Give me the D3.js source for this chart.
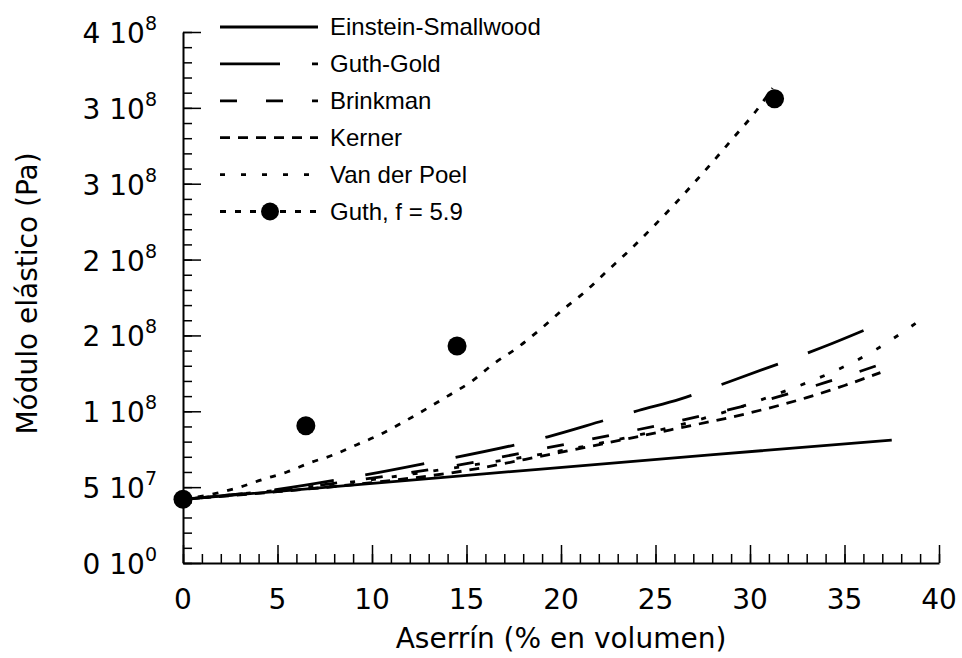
<!DOCTYPE html>
<html>
<head>
<meta charset="utf-8">
<script src="https://cdn.jsdelivr.net/npm/d3@7"></script>
<style>
  html, body { margin: 0; padding: 0; background: #fff; }
  svg { display: block; }
  .ax text { font-family: "DejaVu Sans", sans-serif; }
</style>
</head>
<body>
<svg id="chart" width="962" height="658"></svg>
<script>
// Filler volume fraction (%) and elastic modulus (Pa) for each model
const einsteinX = [0, 14.1, 27.9, 37.5];
const einsteinY = [0.42e8, 0.568e8, 0.713e8, 0.81e8];

const guthGoldX = [0, 5, 9.6, 12.7, 19.3, 22.4, 24.1, 26.3, 28.9, 32.1, 33.8, 37.0];
const guthGoldY = [0.42e8, 0.485e8, 0.58e8, 0.654e8, 0.832e8, 0.944e8, 1.005e8, 1.08e8, 1.195e8, 1.34e8, 1.42e8, 1.585e8];

const brinkmanX = [0, 5, 10, 15, 19.3, 25.8, 30, 34, 37.5];
const brinkmanY = [0.42e8, 0.48e8, 0.56e8, 0.655e8, 0.76e8, 0.925e8, 1.045e8, 1.19e8, 1.334e8];

const kernerX = [0, 5, 10, 15, 19.3, 25.8, 30, 33, 35, 36.9];
const kernerY = [0.42e8, 0.47e8, 0.53e8, 0.61e8, 0.713e8, 0.878e8, 0.99e8, 1.09e8, 1.17e8, 1.255e8];

const vanDerPoelX = [0, 5, 10, 15, 20, 25, 28, 30, 32, 34.2, 35.4, 36.7, 37.9, 39.0];
const vanDerPoelY = [0.42e8, 0.48e8, 0.55e8, 0.64e8, 0.74e8, 0.87e8, 0.97e8, 1.05e8, 1.14e8, 1.25e8, 1.32e8, 1.41e8, 1.506e8, 1.60e8];

const guthCurveX = [0, 1.8, 3.0, 4.2, 5.5, 6.7, 7.9, 9.2, 10.4, 11.6, 14.0, 15.3, 16.4, 17.7, 18.9, 20.1, 21.2, 22.4, 23.7, 24.9, 25.9, 27.0, 28.0, 29.1, 30.2, 31.2];
const guthCurveY = [0.42e8, 0.46e8, 0.50e8, 0.55e8, 0.60e8, 0.66e8, 0.71e8, 0.78e8, 0.845e8, 0.925e8, 1.10e8, 1.20e8, 1.31e8, 1.42e8, 1.54e8, 1.67e8, 1.78e8, 1.92e8, 2.07e8, 2.22e8, 2.35e8, 2.50e8, 2.64e8, 2.80e8, 2.96e8, 3.13e8];

// Measured samples
const expX = [0, 6.5, 14.5, 31.3];
const expY = [0.42e8, 0.905e8, 1.43e8, 3.06e8];

// Axis ticks and labels
const xTicks = [0, 5, 10, 15, 20, 25, 30, 35, 40];
const yTicks = [0, 0.5e8, 1.0e8, 1.5e8, 2.0e8, 2.5e8, 3.0e8, 3.5e8];
const yMantissa = ["0", "5", "1", "2", "2", "3", "3", "4"];
const yExponent = ["0", "7", "8", "8", "8", "8", "8", "8"];

const legendNames = ["Einstein-Smallwood", "Guth-Gold", "Brinkman", "Kerner", "Van der Poel", "Guth, f = 5.9"];
const xTitle = "Aserrín (% en volumen)";
const yTitle = "Módulo elástico (Pa)";

const svg = d3.select("#chart");
const x = d3.scaleLinear().domain([0, 40]).range([183, 939]);
const y = d3.scaleLinear().domain([0, 3.5e8]).range([563, 32]);

// Axes with inward ticks (major + minor)
const axG = svg.append("g").attr("class", "ax");

const gxMinor = axG.append("g").attr("transform", `translate(0,${y(0)})`)
  .call(d3.axisBottom(x).tickValues(d3.range(0, 41, 1)).tickSize(-9).tickFormat(""));
const gxMajor = axG.append("g").attr("transform", `translate(0,${y(0)})`)
  .call(d3.axisBottom(x).tickValues(xTicks).tickSize(-18).tickSizeOuter(0).tickFormat(""));
const gyMinor = axG.append("g").attr("transform", `translate(${x(0)},0)`)
  .call(d3.axisLeft(y).tickValues(d3.range(0, 35.5, 1).map(v => v * 1e7)).tickSize(-9).tickFormat(""));
const gyMajor = axG.append("g").attr("transform", `translate(${x(0)},0)`)
  .call(d3.axisLeft(y).tickValues(yTicks).tickSize(-18).tickSizeOuter(0).tickFormat(""));

[gxMinor, gyMinor].forEach(g => g.select(".domain").remove());
axG.selectAll("line").attr("stroke", "#000").attr("stroke-width", 1.5);
axG.selectAll(".domain").attr("stroke", "#000").attr("stroke-width", 2);

// X tick labels
axG.append("g").selectAll("text").data(xTicks).join("text")
  .attr("x", d => x(d)).attr("y", 609)
  .attr("text-anchor", "middle")
  .attr("font-size", 28)
  .text(d => d);

// Y tick labels: mantissa, "10" and superscript exponent
const yl = axG.append("g").selectAll("text").data(yTicks).join("text")
  .attr("x", 157).attr("y", d => y(d) + 11)
  .attr("text-anchor", "end")
  .attr("font-size", 28);
yl.append("tspan").text((d, i) => yMantissa[i] + " 10");
yl.append("tspan").attr("dy", -13).attr("font-size", 19).text((d, i) => yExponent[i]);

// Axis titles
axG.append("text").attr("x", (x(0) + x(40)) / 2).attr("y", 648)
  .attr("text-anchor", "middle").attr("font-size", 28).text(xTitle);
axG.append("text")
  .attr("transform", `translate(37,${(y(0) + y(3.5e8)) / 2 - 4}) rotate(-90)`)
  .attr("text-anchor", "middle").attr("font-size", 28).text(yTitle);

// Model curves
const series = [
  { xs: einsteinX, ys: einsteinY, dash: null },
  { xs: guthGoldX, ys: guthGoldY, dash: "60,32" },
  { xs: brinkmanX, ys: brinkmanY, dash: "17,29" },
  { xs: kernerX, ys: kernerY, dash: "10,8" },
  { xs: vanDerPoelX, ys: vanDerPoelY, dash: "5,16" },
  { xs: guthCurveX, ys: guthCurveY, dash: "6,9" }
];

const line = d3.line().x(d => x(d[0])).y(d => y(d[1])).curve(d3.curveMonotoneX);

svg.append("g").selectAll("path").data(series).join("path")
  .attr("d", s => line(s.xs.map((v, i) => [v, s.ys[i]])))
  .attr("fill", "none")
  .attr("stroke", "#000")
  .attr("stroke-width", 2.8)
  .attr("stroke-dasharray", s => s.dash);

// Measured points
svg.append("g").selectAll("circle").data(expX).join("circle")
  .attr("cx", d => x(d)).attr("cy", (d, i) => y(expY[i]))
  .attr("r", 9.5).attr("fill", "#000");

// Legend
const lg = svg.append("g");
const rows = lg.selectAll("g").data(series).join("g")
  .attr("transform", (d, i) => `translate(0,${27 + i * 36.9})`);
rows.append("line")
  .attr("x1", 220).attr("x2", 318).attr("y1", 0).attr("y2", 0)
  .attr("stroke", "#000").attr("stroke-width", 2.8)
  .attr("stroke-dasharray", s => s.dash);
rows.append("text")
  .attr("x", 330).attr("y", 8)
  .attr("font-family", "'Liberation Sans', Arial, sans-serif")
  .attr("font-size", 24)
  .text((d, i) => legendNames[i]);
lg.append("circle").attr("cx", 270).attr("cy", 27 + 5 * 36.9).attr("r", 9).attr("fill", "#000");
</script>
</body>
</html>
